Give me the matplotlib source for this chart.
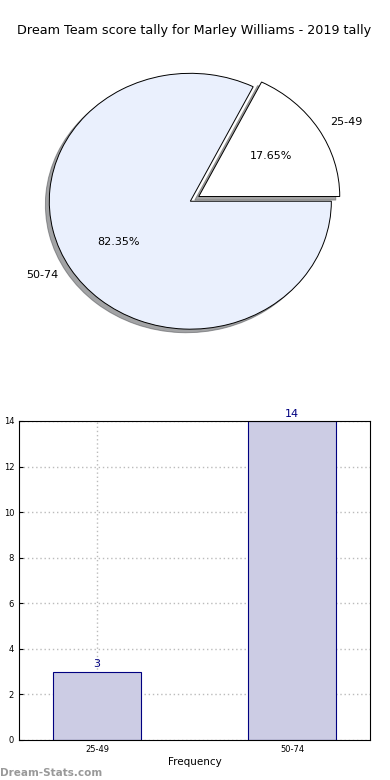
import matplotlib
matplotlib.use("Agg")
import matplotlib.pyplot as plt

# data
categories = ["25-49", "50-74"]
counts = [3, 14]
pie_colors = ["#ffffff", "#eaf0fd"]
explode = [0.07, 0.0]

fig = plt.figure(figsize=(3.9, 7.8), dpi=100)

fig.text(0.497, 0.961, "Dream Team score tally for Marley Williams - 2019 tally",
         ha="center", va="center", fontsize=9.2)

# pie (stretched horizontally like the original)
ax1 = fig.add_axes([0.036, 0.537, 0.904, 0.41])
ax1.pie(counts, labels=categories, colors=pie_colors, explode=explode,
        autopct="%.2f%%", startangle=0, shadow=True, labeldistance=1.1,
        wedgeprops=dict(edgecolor="black", linewidth=0.7),
        textprops=dict(fontsize=8))
ax1.set_aspect("auto")

# bars
ax2 = fig.add_axes([0.0487, 0.0513, 0.9, 0.409])
x = list(range(len(categories)))
ax2.bar(x, counts, width=0.45, color="#ccccе4".replace("е", "e"),
        edgecolor="navy", linewidth=0.8, zorder=2)
for xi, c in zip(x, counts):
    ax2.text(xi, c + 0.1, str(c), ha="center", va="bottom", color="navy", fontsize=8)
ax2.set_xlim(-0.4, 1.4)
ax2.set_ylim(0, 14)
ax2.set_yticks(range(0, 15, 2))
ax2.set_xticks(x)
ax2.set_xticklabels(categories)
ax2.tick_params(labelsize=6, direction="in", length=3)
ax2.grid(True, linestyle=(0, (1, 2)), color="#bbbbbb", linewidth=1.0, zorder=0)
ax2.set_axisbelow(True)
ax2.set_xlabel("Frequency", fontsize=7.5, labelpad=2)
ax2.set_ylabel("Score Intervals", fontsize=7.5)
ax2.yaxis.set_label_coords(-0.045, 0.5)

fig.text(0.0, 0.002, "Dream-Stats.com", fontsize=7.5, color="#999999",
         fontweight="bold", ha="left", va="bottom")

fig.savefig("out.png", dpi=100)
